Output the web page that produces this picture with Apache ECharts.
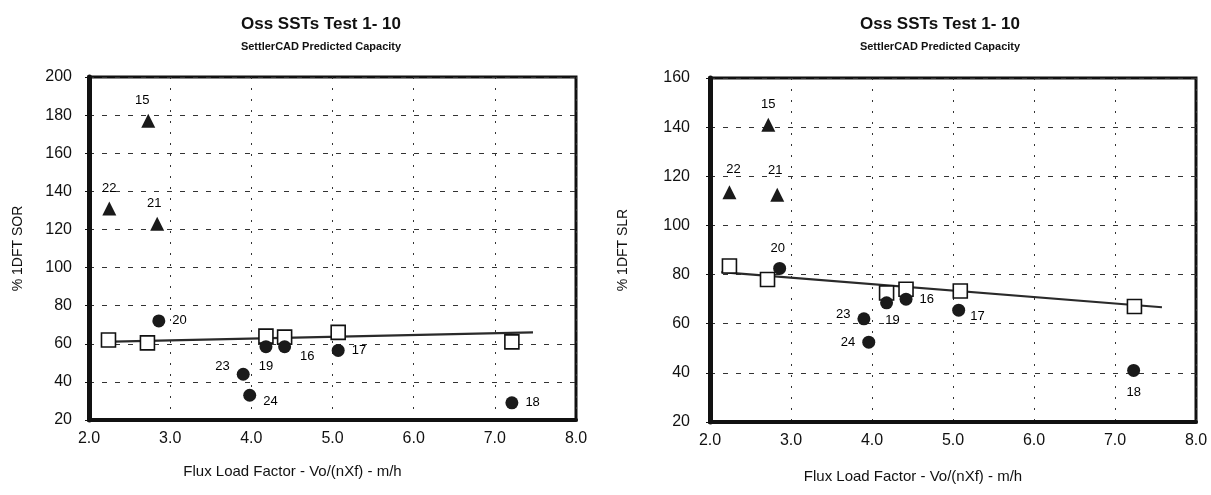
<!DOCTYPE html>
<html><head><meta charset="utf-8">
<script src="https://cdn.jsdelivr.net/npm/echarts@6/dist/echarts.min.js"></script>
<style>html,body{margin:0;padding:0;background:#fff}#c{width:1211px;height:495px}</style>
</head><body><div id="c"></div>
<script>
// ---- data ----
const titleText = 'Oss SSTs Test 1- 10';
const subText = 'SettlerCAD Predicted Capacity';
const xName = 'Flux Load Factor - Vo/(nXf) - m/h';
const yNames = ['% 1DFT SOR', '% 1DFT SLR'];

// Left chart: SOR
const sorTriIds = ['15', '22', '21'];
const sorTriX = [2.73, 2.25, 2.84];
const sorTriY = [177, 131, 123];
const sorCirIds = ['20', '19', '16', '23', '24', '17', '18'];
const sorCirX = [2.86, 4.18, 4.41, 3.90, 3.98, 5.07, 7.21];
const sorCirY = [72, 58.5, 58.5, 44, 33, 56.5, 29];
const sorSqX = [2.24, 2.72, 4.18, 4.41, 5.07, 7.21];
const sorSqY = [62, 60.5, 64, 63.5, 66, 61];
const sorTrendX = [2.16, 7.47];
const sorTrendY = [61, 66];

// Right chart: SLR
const slrTriIds = ['15', '22', '21'];
const slrTriX = [2.72, 2.24, 2.83];
const slrTriY = [141, 113.5, 112.5];
const slrCirIds = ['20', '19', '16', '23', '24', '17', '18'];
const slrCirX = [2.86, 4.18, 4.42, 3.90, 3.96, 5.07, 7.23];
const slrCirY = [82.5, 68.5, 70, 62, 52.5, 65.5, 41];
const slrSqX = [2.24, 2.71, 4.18, 4.42, 5.09, 7.24];
const slrSqY = [83.5, 78, 72.5, 74, 73.3, 67];
const slrTrendX = [2.14, 7.58];
const slrTrendY = [81, 66.7];

const xTicks = [2, 3, 4, 5, 6, 7, 8];
const yRangeSOR = [20, 200];
const yRangeSLR = [20, 160];

// ---- label placement (style only) ----
const sorLabelPos = {
  '15': {position: 'top', offset: [-6, -2]},
  '22': {position: 'top', offset: [0, -2]},
  '21': {position: 'top', offset: [-3, -2]},
  '20': {position: 'right', offset: [2, 0]},
  '19': {position: 'bottom', offset: [0, 2]},
  '16': {position: 'right', offset: [4, 10]},
  '23': {position: 'left', offset: [-2, -8]},
  '24': {position: 'right', offset: [2, 6]},
  '17': {position: 'right', offset: [2, 0]},
  '18': {position: 'right', offset: [2, 0]}
};
const slrLabelPos = {
  '15': {position: 'top', offset: [0, -2]},
  '22': {position: 'top', offset: [4, -4]},
  '21': {position: 'top', offset: [-2, -6]},
  '20': {position: 'top', offset: [-2, -2]},
  '19': {position: 'bottom', offset: [6, 0]},
  '16': {position: 'right', offset: [2, 0]},
  '23': {position: 'left', offset: [-2, -4]},
  '24': {position: 'left', offset: [-2, 0]},
  '17': {position: 'right', offset: [0, 6]},
  '18': {position: 'bottom', offset: [0, 4]}
};

const FONT = '"Liberation Sans", Arial, sans-serif';
const INK = '#111';

function pts(xs, ys, ids, posMap) {
  return xs.map((x, i) => {
    const d = {value: [x, ys[i]]};
    if (ids) {
      d.name = ids[i];
      const p = posMap[ids[i]];
      d.label = {show: true, formatter: ids[i], position: p.position, offset: p.offset,
        color: '#000', fontSize: 13, fontFamily: FONT, opacity: 1};
    }
    return d;
  });
}

const grids = [
  {left: 89, top: 77, width: 487, height: 343},
  {left: 710, top: 78, width: 486, height: 344}
];

function xAxis(gi) {
  return {
    type: 'value', gridIndex: gi, min: 2, max: 8, interval: 1,
    name: xName, nameLocation: 'middle', nameGap: gi === 0 ? 44 : 47,
    nameTextStyle: {color: INK, fontSize: 15, fontFamily: FONT, padding: [0, 80, 0, 0]},
    axisLine: {show: true, lineStyle: {color: INK, width: 4}},
    axisTick: {show: false},
    axisLabel: {color: INK, fontSize: 16, fontFamily: FONT, margin: 11,
      formatter: v => xTicks.includes(v) ? v.toFixed(1) : ''},
    splitLine: {show: true, lineStyle: {color: '#333', width: 1, type: [2, 9]}}
  };
}
function yAxis(gi, range) {
  return {
    type: 'value', gridIndex: gi, min: range[0], max: range[1], interval: 20,
    name: yNames[gi], nameLocation: 'middle', nameGap: gi === 0 ? 64 : 80, nameRotate: 90,
    nameTextStyle: {color: INK, fontSize: 14, fontFamily: FONT},
    axisLine: {show: true, lineStyle: {color: INK, width: 5}},
    axisTick: {show: true, length: 4, lineStyle: {color: INK}},
    axisLabel: {color: INK, fontSize: 16, fontFamily: FONT, margin: gi === 0 ? 17 : 20},
    splitLine: {show: true, lineStyle: {color: '#333', width: 1, type: [5, 8]}}
  };
}

function seriesFor(gi, triX, triY, triIds, cirX, cirY, cirIds, sqX, sqY, trX, trY, posMap) {
  return [
    {type: 'line', xAxisIndex: gi, yAxisIndex: gi, data: pts(trX, trY), symbol: 'none',
      lineStyle: {color: '#2a2a2a', width: 2.2}, z: 3, silent: true},
    {type: 'scatter', xAxisIndex: gi, yAxisIndex: gi, data: pts(sqX, sqY), symbol: 'rect',
      symbolSize: 14, itemStyle: {color: '#fff', borderColor: INK, borderWidth: 1.6, opacity: 1}, z: 4},
    {type: 'scatter', xAxisIndex: gi, yAxisIndex: gi, data: pts(cirX, cirY, cirIds, posMap),
      symbol: 'circle', symbolSize: 13, itemStyle: {color: '#1a1a1a', opacity: 1}, z: 5},
    {type: 'scatter', xAxisIndex: gi, yAxisIndex: gi, data: pts(triX, triY, triIds, posMap),
      symbol: 'triangle', symbolSize: 14, itemStyle: {color: '#1a1a1a', opacity: 1}, z: 5}
  ];
}

const chart = echarts.init(document.getElementById('c'), null, {renderer: 'canvas'});
chart.setOption({
  backgroundColor: '#fff',
  animation: false,
  title: [
    {text: titleText, subtext: subText, left: 316, top: 11, textAlign: 'center', itemGap: 8,
      textStyle: {fontSize: 17, fontWeight: 'bold', color: INK, fontFamily: FONT},
      subtextStyle: {fontSize: 11, fontWeight: 'bold', color: INK, fontFamily: FONT}},
    {text: titleText, subtext: subText, left: 935, top: 11, textAlign: 'center', itemGap: 8,
      textStyle: {fontSize: 17, fontWeight: 'bold', color: INK, fontFamily: FONT},
      subtextStyle: {fontSize: 11, fontWeight: 'bold', color: INK, fontFamily: FONT}}
  ],
  grid: grids.map(g => Object.assign({show: true, borderColor: INK, borderWidth: 3,
    backgroundColor: 'transparent', containLabel: false}, g)),
  xAxis: [xAxis(0), xAxis(1)],
  yAxis: [yAxis(0, yRangeSOR), yAxis(1, yRangeSLR)],
  series: [
    ...seriesFor(0, sorTriX, sorTriY, sorTriIds, sorCirX, sorCirY, sorCirIds, sorSqX, sorSqY, sorTrendX, sorTrendY, sorLabelPos),
    ...seriesFor(1, slrTriX, slrTriY, slrTriIds, slrCirX, slrCirY, slrCirIds, slrSqX, slrSqY, slrTrendX, slrTrendY, slrLabelPos)
  ]
});
</script>
</body></html>
